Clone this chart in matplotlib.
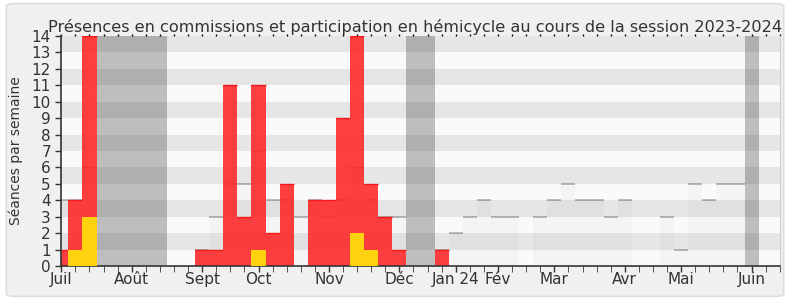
import numpy as np
import matplotlib.pyplot as plt
from matplotlib.patches import FancyBboxPatch

weeks = np.arange(52)

# présences en commission (rouge)
presences = np.zeros(52)
presences[[0, 1, 2]] = [1, 4, 14]
presences[10:25] = [1, 1, 11, 3, 11, 2, 5, 0, 4, 4, 9, 14, 5, 3, 1]
presences[27] = 1

# participation en hémicycle (jaune)
participation = np.zeros(52)
participation[[1, 2, 14, 21, 22]] = [1, 3, 1, 2, 1]

# médiane des députés
mediane = np.array([4, 4, 6, 0, 0, 0, 0, 0, 0, 0,
                    1, 3, 5, 5, 7, 4, 4, 3, 4, 3,
                    4, 6, 4, 3, 3, 0, 0, 1, 2, 3,
                    4, 3, 3, 0, 3, 4, 5, 4, 4, 3,
                    4, 0, 0, 3, 1, 5, 4, 5, 5, 0,
                    0, 0])

vacances = [3, 4, 5, 6, 7, 25, 26, 49]

mois_pos = [0, 5, 10, 14, 19, 24, 28, 31, 35, 40, 44, 49]
mois_labels = ["Juil", "Août", "Sept", "Oct", "Nov", "Déc",
               "Jan 24", "Fév", "Mar", "Avr", "Mai", "Juin"]

ymax = 14
txt = "#333333"

fig = plt.figure(figsize=(7.9, 3.0), dpi=100)
fig.patch.set_facecolor("white")
fig.patches.append(FancyBboxPatch((0.008, 0.012), 0.984, 0.976,
                                  boxstyle="round,pad=0,rounding_size=0.01",
                                  transform=fig.transFigure,
                                  facecolor="#f0f0f0", edgecolor="#dddddd",
                                  linewidth=1.2, zorder=-10))

ax = fig.add_axes([0.0776, 0.1133, 0.9094, 0.7667])
ax.set_facecolor("#fafafa")

# bandes horizontales
for y in range(1, ymax, 2):
    ax.axhspan(y, y + 1, color="black", alpha=0.08, lw=0, zorder=0)

# vacances parlementaires
ax.bar(vacances, ymax, width=1, color="black", alpha=0.24, lw=0, zorder=1)

# médiane
m = mediane > 0
ax.bar(weeks[m], mediane[m], width=1, color="black", alpha=0.025, lw=0, zorder=1)
ax.hlines(mediane[m], weeks[m] - 0.5, weeks[m] + 0.5, color="black",
          alpha=0.3, lw=1.2, zorder=1.5)

# barres
r = presences > 0
ax.bar(weeks[r], presences[r], width=1, color="#ff2a2a", alpha=0.9, lw=0, zorder=2)
ax.hlines(presences[r], weeks[r] - 0.5, weeks[r] + 0.5, color="#f01818", lw=1, zorder=2)
j = participation > 0
ax.bar(weeks[j], participation[j], width=1, color="#ffd20f", lw=0, zorder=3)

ax.set_xlim(0, 51)
ax.set_ylim(0, ymax)

ax.set_yticks(range(0, ymax + 1))
ax.set_xticks(mois_pos)
ax.set_xticklabels(mois_labels)
ax.set_xticks(weeks, minor=True)
ax.tick_params(axis="both", colors=txt, labelsize=11, length=4, width=1)
ax.tick_params(axis="x", which="minor", length=4, color=txt)
ax.tick_params(axis="x", which="major", pad=0)
ax.tick_params(axis="y", pad=3.5)

sec = ax.secondary_xaxis("top")
sec.set_xticks(weeks)
sec.tick_params(length=1.5, width=1, color="black", labeltop=False)
sec.spines["top"].set_visible(False)

for s in ["left", "bottom"]:
    ax.spines[s].set_color(txt)
    ax.spines[s].set_linewidth(1.2)
ax.spines["top"].set_visible(False)
ax.spines["right"].set_color("#d0d0d0")

ax.set_ylabel("Séances par semaine", color=txt, fontsize=10, labelpad=6)
ax.set_title("Présences en commissions et participation en hémicycle au cours de la session 2023-2024",
             color=txt, fontsize=11.6, pad=3, x=0.493)

fig.savefig("out.png", dpi=100, facecolor=fig.get_facecolor())
